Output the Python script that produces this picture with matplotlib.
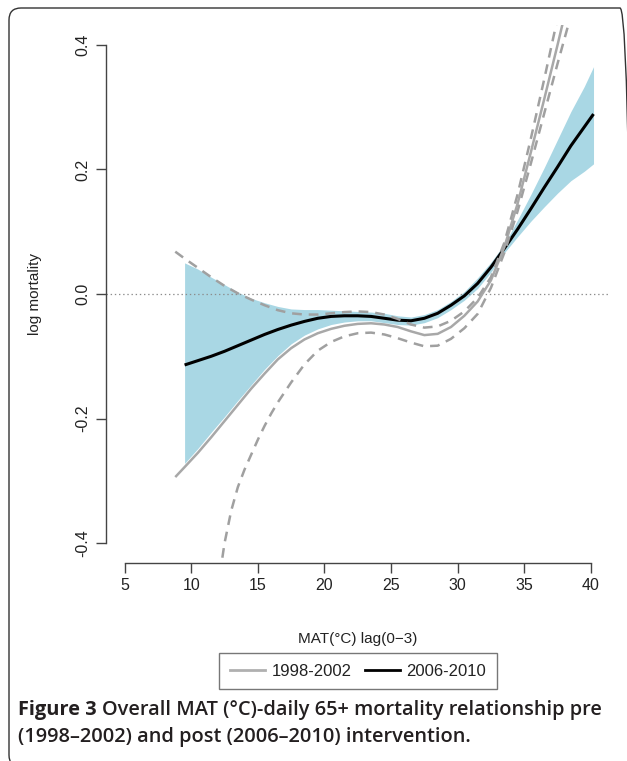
import matplotlib
matplotlib.use("Agg")
import matplotlib.pyplot as plt
from matplotlib.patches import FancyBboxPatch
from matplotlib.lines import Line2D
from matplotlib.transforms import IdentityTransform

plt.rcParams['font.family'] = ['Liberation Sans', 'DejaVu Sans']
plt.rcParams['lines.scale_dashes'] = False

# ---- data ----
# 2006-2010 estimate and confidence band
post_x = [9.5, 10.5, 11.5, 12.5, 13.5, 14.5, 15.5, 16.5, 17.5, 18.5, 19.5, 20.5,
          21.5, 22.5, 23.5, 24.5, 25.5, 26.5, 27.5, 28.5, 29.5, 30.5, 31.5, 32.5,
          33.5, 34.5, 35.5, 36.5, 37.5, 38.5, 39.5, 40.2]
post_est = [-0.114, -0.107, -0.100, -0.092, -0.083, -0.074, -0.065, -0.057, -0.050,
            -0.044, -0.039, -0.036, -0.035, -0.035, -0.036, -0.039, -0.042, -0.043,
            -0.039, -0.031, -0.018, -0.003, 0.017, 0.043, 0.073, 0.104, 0.137, 0.171,
            0.204, 0.238, 0.268, 0.289]
post_hi = [0.050, 0.040, 0.027, 0.015, 0.003, -0.007, -0.014, -0.020, -0.024, -0.025,
           -0.025, -0.026, -0.027, -0.028, -0.029, -0.031, -0.035, -0.037, -0.033,
           -0.025, -0.012, 0.004, 0.026, 0.051, 0.080, 0.119, 0.160, 0.203, 0.248,
           0.293, 0.333, 0.365]
post_lo = [-0.272, -0.248, -0.222, -0.197, -0.171, -0.146, -0.121, -0.099, -0.080,
           -0.066, -0.056, -0.049, -0.045, -0.043, -0.043, -0.046, -0.049, -0.050,
           -0.046, -0.038, -0.025, -0.010, 0.009, 0.035, 0.066, 0.092, 0.117, 0.140,
           0.162, 0.182, 0.197, 0.209]

# 1998-2002 estimate
pre_x = [8.8, 9.5, 10.5, 11.5, 12.5, 13.5, 14.5, 15.5, 16.5, 17.5, 18.5, 19.5, 20.5,
         21.5, 22.5, 23.5, 24.5, 25.5, 26.5, 27.5, 28.5, 29.5, 30.5, 31.5, 32.5,
         33.5, 34.5, 35.5, 36.5, 37.5, 38.0]
pre_est = [-0.294, -0.278, -0.255, -0.230, -0.204, -0.178, -0.152, -0.128, -0.105,
           -0.087, -0.073, -0.063, -0.056, -0.051, -0.048, -0.047, -0.049, -0.053,
           -0.060, -0.066, -0.064, -0.053, -0.035, -0.012, 0.022, 0.075, 0.145,
           0.228, 0.313, 0.400, 0.445]
# 1998-2002 upper confidence limit
pre_hi_x = [8.8, 9.5, 10.5, 11.5, 12.5, 13.5, 14.5, 15.5, 16.5, 17.5, 18.5, 19.5,
            20.5, 21.5, 22.5, 23.5, 24.5, 25.5, 26.5, 27.5, 28.5, 29.5, 30.5, 31.5,
            32.5, 33.5, 34.5, 35.5, 36.5, 37.5]
pre_hi = [0.068, 0.057, 0.042, 0.027, 0.013, 0.001, -0.009, -0.018, -0.026, -0.031,
          -0.033, -0.033, -0.031, -0.029, -0.028, -0.029, -0.033, -0.040, -0.049,
          -0.054, -0.052, -0.043, -0.028, -0.006, 0.027, 0.082, 0.160, 0.250, 0.345,
          0.443]
# 1998-2002 lower confidence limit
pre_lo_x = [12.15, 12.5, 13.0, 13.5, 14.0, 14.5, 15.0, 15.5, 16.0, 16.5, 17.0, 17.5,
            18.5, 19.5, 20.5, 21.5, 22.5, 23.5, 24.5, 25.5, 26.5, 27.5, 28.5, 29.5,
            30.5, 31.5, 32.5, 33.5, 34.5, 35.5, 36.5, 37.5, 38.5]
pre_lo = [-0.450, -0.400, -0.348, -0.310, -0.282, -0.258, -0.234, -0.212, -0.192,
          -0.174, -0.158, -0.142, -0.113, -0.091, -0.077, -0.068, -0.063, -0.062,
          -0.065, -0.071, -0.078, -0.084, -0.083, -0.072, -0.055, -0.032, 0.010,
          0.066, 0.133, 0.210, 0.290, 0.370, 0.447]

x_ticks = [5, 10, 15, 20, 25, 30, 35, 40]
y_ticks = [-0.4, -0.2, 0.0, 0.2, 0.4]
y_ticklabels = ["-0.4", "-0.2", "0.0", "0.2", "0.4"]
legend_labels = ["1998-2002", "2006-2010"]

W, H = 627, 761
fig = plt.figure(figsize=(W / 100, H / 100), dpi=100)

# outer rounded frame (only top & left edges fall inside the picture)
frame = FancyBboxPatch((9, -6), 632 - 9, (H - 8) + 6,
                       boxstyle="round,pad=0,rounding_size=12",
                       transform=IdentityTransform(), fill=False,
                       edgecolor='#333333', linewidth=1.0, clip_on=False)
fig.patches.append(frame)

ax = fig.add_axes([106 / W, 1 - 563 / H, (609.5 - 106) / W, (563 - 25) / H])
ax.set_xlim(3.6, 41.4)
ax.set_ylim(-0.432, 0.432)

ax.fill_between(post_x, post_lo, post_hi, color='#a9d7e4', linewidth=0, zorder=1)
ax.axhline(0, color='#8c8c8c', linestyle=(0, (1, 2)), linewidth=0.9, zorder=2)
ax.plot(post_x, post_est, color='black', linewidth=2.2, zorder=3,
        solid_capstyle='butt')
ax.plot(pre_x, pre_est, color='#a8a8a8', linewidth=1.8, zorder=4,
        solid_capstyle='butt')
ax.plot(pre_hi_x, pre_hi, color='#a0a0a0', linewidth=1.8, zorder=4,
        dashes=(7, 5))
ax.plot(pre_lo_x, pre_lo, color='#a0a0a0', linewidth=1.8, zorder=4,
        dashes=(7, 5))

for s in ['top', 'right']:
    ax.spines[s].set_visible(False)
ax.spines['left'].set_bounds(-0.4, 0.4)
ax.spines['bottom'].set_bounds(5, 40)
for s in ['left', 'bottom']:
    ax.spines[s].set_color('#444444')
    ax.spines[s].set_linewidth(1.0)
ax.set_xticks(x_ticks)
ax.set_xticklabels([str(v) for v in x_ticks])
ax.set_yticks(y_ticks)
ax.set_yticklabels(y_ticklabels, rotation=90, va='center')
ax.tick_params(axis='both', length=7, width=1.0, color='#444444',
               labelsize=11.5, labelcolor='#222222')
ax.tick_params(axis='x', pad=4)
ax.tick_params(axis='y', pad=4)
ax.patch.set_alpha(0)

ax.set_xlabel("MAT(°C) lag(0\u22123)", fontsize=11, color='#222222', labelpad=0)
ax.xaxis.set_label_coords(0.5, -(632 - 563) / (563 - 25))
ax.set_ylabel("log mortality", fontsize=11, color='#222222')
ax.yaxis.set_label_coords(-(106 - 42) / (609.5 - 106), 0.5)

handles = [Line2D([], [], color='#b0b0b0', linewidth=2.0),
           Line2D([], [], color='black', linewidth=2.0)]
leg = fig.legend(handles, legend_labels, loc='center',
                 bbox_to_anchor=(358 / W, 1 - 671 / H), ncol=2, frameon=True,
                 fancybox=False, edgecolor='#555555', fontsize=12,
                 handlelength=2.1, handletextpad=0.4, columnspacing=0.8,
                 borderpad=0.62, borderaxespad=0)
leg.get_frame().set_linewidth(1.0)
for t in leg.get_texts():
    t.set_color('#222222')

# caption, sized so that the first line spans the measured width
cap_font = ['Open Sans', 'DejaVu Sans']
line1_rest = "Overall MAT (°C)-daily 65+ mortality relationship pre"
line2 = "(1998\u20132002) and post (2006\u20132010) intervention."
x_left, x_right = 18, 601
y1 = 1 - 710 / H
y2 = 1 - 737 / H
fig.canvas.draw()
r = fig.canvas.get_renderer()


def draw_caption(fs):
    t1 = fig.text(x_left / W, y1, "Figure 3", fontsize=fs, fontweight='bold',
                  family=cap_font, color='#231f20', va='center', ha='left')
    bb = t1.get_window_extent(r)
    a = fig.text(0, 0, "a a", fontsize=fs, family=cap_font, fontweight='semibold')
    b = fig.text(0, 0, "aa", fontsize=fs, family=cap_font, fontweight='semibold')
    spw = a.get_window_extent(r).width - b.get_window_extent(r).width
    a.remove(); b.remove()
    t1b = fig.text((bb.x1 + spw) / W, y1, line1_rest, fontsize=fs,
                   fontweight='semibold', family=cap_font, color='#231f20',
                   va='center', ha='left')
    t2 = fig.text(x_left / W, y2, line2, fontsize=fs, fontweight='semibold',
                  family=cap_font, color='#231f20', va='center', ha='left')
    return [t1, t1b, t2], t1b.get_window_extent(r).x1


fs0 = 12.0
texts, right = draw_caption(fs0)
for t in texts:
    t.remove()
fs = fs0 * (x_right - x_left) / (right - x_left)
draw_caption(fs)

fig.savefig("out.png", dpi=100)
